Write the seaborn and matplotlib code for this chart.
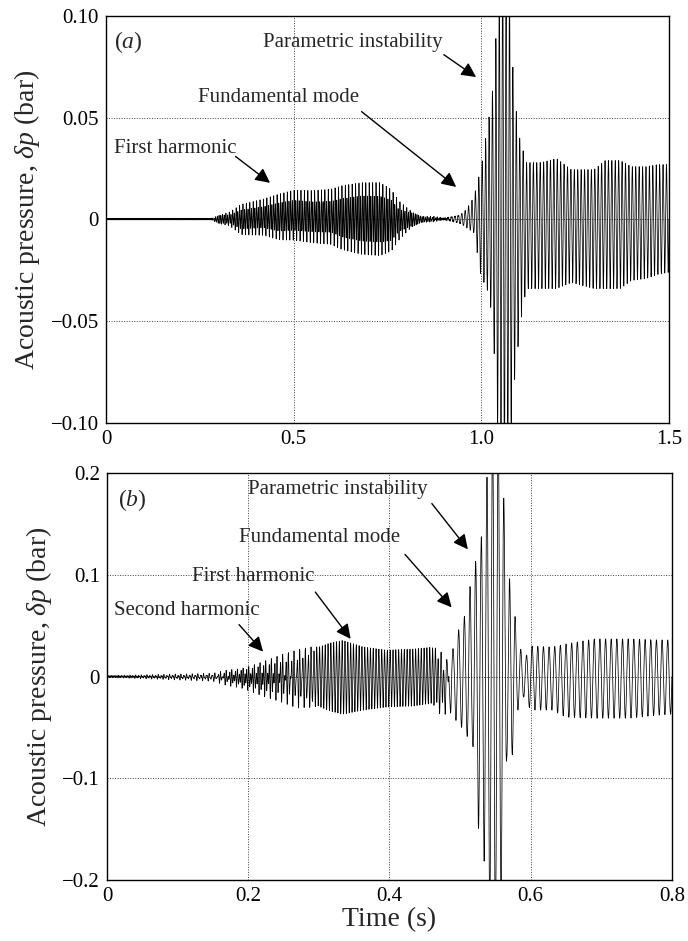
import numpy as np
import pandas as pd
import seaborn as sns
import matplotlib
matplotlib.use("Agg")
import matplotlib.pyplot as plt

# ---------------------------------------------------------------------------
# Pressure records, described per acoustic mode: carrier frequency (Hz) and the
# positive / negative envelope of the oscillation (bar) at a set of times (s).
# ---------------------------------------------------------------------------

# Panel (a)
a_fs = 10000.0
a_tmax = 1.5

a_base_freq = 330.0
a_base_t = [0.0, 0.28, 0.30, 0.84, 0.87, 0.94, 0.96, 1.5]
a_base_up = [0.0006, 0.0006, 0.0, 0.0, 0.0008, 0.0008, 0.0, 0.0]
a_base_lo = [0.0002, 0.0002, 0.0, 0.0, 0.0003, 0.0003, 0.0, 0.0]

a_h1_freq = 220.0
a_h1_t = [0.0, 0.28, 0.30, 0.33, 0.36, 0.42, 0.46, 0.50, 0.55, 0.60, 0.63,
          0.68, 0.73, 0.76, 0.78, 0.81, 0.84, 0.87, 0.90, 1.5]
a_h1_up = [0.0, 0.0, 0.002, 0.003, 0.006, 0.008, 0.010, 0.0115, 0.011, 0.0115,
           0.013, 0.0145, 0.0145, 0.012, 0.007, 0.004, 0.0015, 0.001, 0.0, 0.0]
a_h1_lo = [0.0, 0.0, 0.002, 0.0025, 0.006, 0.006, 0.008, 0.008, 0.009, 0.0095,
           0.012, 0.014, 0.0145, 0.013, 0.008, 0.004, 0.0015, 0.001, 0.0, 0.0]

a_f0_freq = 110.0
a_f0_t = [0.0, 0.30, 0.33, 0.36, 0.50, 0.63, 0.73, 0.78, 0.82, 0.90, 0.94,
          0.96, 0.98, 1.00, 1.014, 1.028, 1.036, 1.045, 1.06,
          1.077, 1.085, 1.098, 1.108, 1.12, 1.16, 1.20, 1.24, 1.30, 1.33, 1.37,
          1.40, 1.44, 1.47, 1.50]
a_f0_up = [0.0, 0.0, 0.001, 0.002, 0.004, 0.005, 0.005, 0.003, 0.0, 0.0,
           0.002, 0.005, 0.011, 0.026, 0.043, 0.059, 0.080, 0.110,
           0.130, 0.110, 0.070, 0.043, 0.036, 0.028, 0.028, 0.030, 0.0245,
           0.0245, 0.029, 0.029, 0.026, 0.026, 0.027, 0.027]
a_f0_lo = [0.0, 0.0, 0.001, 0.002, 0.003, 0.004, 0.0045, 0.003, 0.0, 0.0,
           0.002, 0.004, 0.0065, 0.029, 0.033, 0.046, 0.072, 0.110,
           0.130, 0.110, 0.085, 0.062, 0.046, 0.034, 0.034, 0.034, 0.031,
           0.034, 0.034, 0.034, 0.030, 0.029, 0.027, 0.026]

# Panel (b)
b_fs = 10000.0
b_tmax = 0.8

b_base_freq = 500.0
b_base_t = [0.0, 0.17, 0.19, 0.8]
b_base_up = [0.001, 0.001, 0.0, 0.0]
b_base_lo = [0.001, 0.001, 0.0, 0.0]

b_h2_freq = 375.0
b_h2_t = [0.0, 0.15, 0.17, 0.20, 0.22, 0.245, 0.27, 0.29, 0.30, 0.8]
b_h2_up = [0.0, 0.001, 0.004, 0.007, 0.010, 0.012, 0.010, 0.004, 0.0, 0.0]
b_h2_lo = [0.0, 0.001, 0.005, 0.009, 0.012, 0.014, 0.012, 0.005, 0.0, 0.0]

b_h1_freq = 250.0
b_h1_t = [0.0, 0.19, 0.22, 0.245, 0.268, 0.292, 0.316, 0.334, 0.363, 0.396,
          0.434, 0.462, 0.476, 0.482, 0.49, 0.50, 0.8]
b_h1_up = [0.0, 0.002, 0.005, 0.010, 0.017, 0.027, 0.033, 0.0355, 0.029,
           0.026, 0.027, 0.029, 0.018, 0.008, 0.002, 0.0, 0.0]
b_h1_lo = [0.0, 0.004, 0.008, 0.012, 0.020, 0.027, 0.034, 0.037, 0.033,
           0.030, 0.029, 0.026, 0.030, 0.015, 0.004, 0.0, 0.0]

b_f0_freq = 125.0
b_f0_t = [0.0, 0.46, 0.48, 0.488, 0.495, 0.502, 0.511, 0.518, 0.523, 0.528,
          0.535, 0.542, 0.55, 0.559, 0.566, 0.573, 0.58, 0.59, 0.60, 0.63,
          0.65, 0.69, 0.74, 0.78, 0.80]
b_f0_up = [0.0, 0.0, 0.008, 0.020, 0.046, 0.046, 0.075, 0.106, 0.115, 0.124,
           0.170, 0.230, 0.250, 0.230, 0.099, 0.094, 0.044, 0.015, 0.030,
           0.029, 0.032, 0.037, 0.037, 0.036, 0.036]
b_f0_lo = [0.0, 0.0, 0.020, 0.035, 0.044, 0.050, 0.060, 0.067, 0.133, 0.160,
           0.185, 0.230, 0.250, 0.210, 0.080, 0.083, 0.036, 0.020, 0.033,
           0.033, 0.040, 0.041, 0.041, 0.038, 0.037]

# Axis ticks and labels
a_xticks = [0.0, 0.5, 1.0, 1.5]
a_xticklabels = ["0", "0.5", "1.0", "1.5"]
a_yticks = [-0.10, -0.05, 0.0, 0.05, 0.10]
a_yticklabels = ["\u22120.10", "\u22120.05", "0", "0.05", "0.10"]

b_xticks = [0.0, 0.2, 0.4, 0.6, 0.8]
b_xticklabels = ["0", "0.2", "0.4", "0.6", "0.8"]
b_yticks = [-0.2, -0.1, 0.0, 0.1, 0.2]
b_yticklabels = ["\u22120.2", "\u22120.1", "0", "0.1", "0.2"]

# Annotations: label, text anchor (t, p), arrow tail (t, p), arrow head (t, p)
a_notes = [
    ("First harmonic", (0.021, 0.035), (0.345, 0.031), (0.437, 0.018)),
    ("Fundamental mode", (0.245, 0.060), (0.681, 0.053), (0.933, 0.016)),
    ("Parametric instability", (0.418, 0.087), (0.900, 0.081), (0.986, 0.070)),
]
b_notes = [
    ("Second harmonic", (0.010, 0.065), (0.187, 0.051), (0.221, 0.0245)),
    ("First harmonic", (0.120, 0.098), (0.295, 0.083), (0.345, 0.037)),
    ("Fundamental mode", (0.187, 0.137), (0.422, 0.120), (0.488, 0.068)),
    ("Parametric instability", (0.200, 0.184), (0.460, 0.170), (0.511, 0.125)),
]


def mode(t, freq, kt, kup, klo):
    """One acoustic mode: a carrier with separate positive/negative envelopes."""
    c = np.sin(2 * np.pi * freq * t)
    up = np.interp(t, kt, kup)
    lo = np.interp(t, kt, klo)
    return up * np.clip(c, 0, None) - lo * np.clip(-c, 0, None)


ta = np.arange(0, a_tmax + 1 / a_fs, 1 / a_fs)
pa = (mode(ta, a_base_freq, a_base_t, a_base_up, a_base_lo)
      + mode(ta, a_h1_freq, a_h1_t, a_h1_up, a_h1_lo)
      + mode(ta, a_f0_freq, a_f0_t, a_f0_up, a_f0_lo))

tb = np.arange(0, b_tmax + 1 / b_fs, 1 / b_fs)
pb = (mode(tb, b_base_freq, b_base_t, b_base_up, b_base_lo)
      + mode(tb, b_h2_freq, b_h2_t, b_h2_up, b_h2_lo)
      + mode(tb, b_h1_freq, b_h1_t, b_h1_up, b_h1_lo)
      + mode(tb, b_f0_freq, b_f0_t, b_f0_up, b_f0_lo))

df_a = pd.DataFrame({"t": ta, "p": pa})
df_b = pd.DataFrame({"t": tb, "p": pb})

# ---------------------------------------------------------------------------
sns.set_theme(style="white")
plt.rcParams["font.family"] = ["Liberation Serif", "DejaVu Serif"]
plt.rcParams["mathtext.fontset"] = "custom"
plt.rcParams["mathtext.rm"] = "Liberation Serif"
plt.rcParams["mathtext.it"] = "Liberation Serif:italic"
plt.rcParams["axes.unicode_minus"] = True

fig = plt.figure(figsize=(6.88, 9.41), dpi=100)
ax_a = fig.add_axes([0.1541, 0.5505, 0.8183, 0.4325])
ax_b = fig.add_axes([0.1555, 0.0648, 0.8212, 0.4325])


def style_axes(ax, xlim, ylim, xt, xtl, yt, ytl):
    ax.set_xlim(*xlim)
    ax.set_ylim(*ylim)
    ax.set_xticks(xt)
    ax.set_xticklabels(xtl)
    ax.set_yticks(yt)
    ax.set_yticklabels(ytl)
    ax.tick_params(direction="in", length=4, width=0.8, labelsize=15,
                   colors="black", pad=5)
    ax.grid(True, color="0.25", linestyle=(0, (1, 1.6)), linewidth=0.7)
    for s in ax.spines.values():
        s.set_color("black")
        s.set_linewidth(1.0)
        s.set_visible(True)
    ax.set_ylabel(r"Acoustic pressure, $\delta p$ (bar)", fontsize=20,
                  labelpad=6)
    ax.set_xlabel("")


def add_notes(ax, notes):
    for label, txt, tail, head in notes:
        ax.text(txt[0], txt[1], label, fontsize=15, ha="left", va="center")
        ax.annotate("", xy=head, xytext=tail,
                    arrowprops=dict(arrowstyle="-|>", color="black", lw=1.0,
                                    mutation_scale=22, shrinkA=0, shrinkB=0))


sns.lineplot(data=df_a, x="t", y="p", ax=ax_a, color="black", linewidth=0.55,
             estimator=None, sort=False)
style_axes(ax_a, (0, 1.5), (-0.10, 0.10), a_xticks, a_xticklabels,
           a_yticks, a_yticklabels)
ax_a.text(0.021, 0.087, r"($\it{a}$)", fontsize=17, ha="left", va="center")
add_notes(ax_a, a_notes)

sns.lineplot(data=df_b, x="t", y="p", ax=ax_b, color="black", linewidth=0.55,
             estimator=None, sort=False)
style_axes(ax_b, (0, 0.8), (-0.2, 0.2), b_xticks, b_xticklabels,
           b_yticks, b_yticklabels)
ax_b.set_xlabel("Time (s)", fontsize=20, labelpad=1)
ax_b.text(0.016, 0.173, r"($\it{b}$)", fontsize=17, ha="left", va="center")
add_notes(ax_b, b_notes)

fig.savefig("out.png", dpi=100)
